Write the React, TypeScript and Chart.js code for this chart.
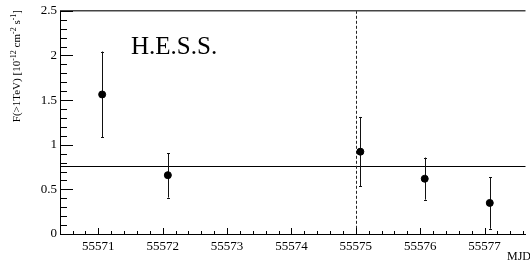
import React, { useEffect, useRef } from "react";
import { Chart, registerables } from "chart.js";

Chart.register(...registerables);

// ---- data ----
const mjd = [55571.06, 55572.08, 55575.07, 55576.07, 55577.08];
const flux = [1.563, 0.659, 0.922, 0.619, 0.348];
const fluxLow = [1.081, 0.408, 0.537, 0.385, 0.059];
const fluxHigh = [2.044, 0.903, 1.311, 0.856, 0.633];
const meanFlux = 0.765;
const markerMjd = 55575;
const xRange = [55570.405, 55577.635];
const yRange = [0, 2.5];
const yTickLabels = ["0", "0.5", "1", "1.5", "2", "2.5"];
const xTickLabels = ["55571", "55572", "55573", "55574", "55575", "55576", "55577"];
const experimentLabel = "H.E.S.S.";
const xTitle = "MJD";
const yTitleParts: [string, boolean][] = [
  ["F(>1TeV) [10", false],
  ["-12", true],
  [" cm", false],
  ["-2", true],
  [" s", false],
  ["-1", true],
  ["]", false],
];

const SERIF = "'Liberation Serif', 'Times New Roman', serif";

const rootStyle = {
  id: "rootStyle",
  beforeDatasetsDraw(chart: any) {
    const { ctx, chartArea: a, scales } = chart;
    const xs = scales.x;
    const ys = scales.y;
    ctx.save();
    const ym = Math.round(ys.getPixelForValue(meanFlux)) + 0.5;
    ctx.strokeStyle = "#000";
    ctx.lineWidth = 1;
    ctx.beginPath();
    ctx.moveTo(a.left, ym);
    ctx.lineTo(a.right, ym);
    ctx.stroke();
    const xd = Math.round(xs.getPixelForValue(markerMjd)) + 0.5;
    ctx.setLineDash([3, 2]);
    ctx.strokeStyle = "#222";
    ctx.beginPath();
    ctx.moveTo(xd, a.top);
    ctx.lineTo(xd, a.bottom);
    ctx.stroke();
    ctx.setLineDash([]);
    ctx.strokeStyle = "#111";
    for (let i = 0; i < mjd.length; i++) {
      const x = Math.round(xs.getPixelForValue(mjd[i])) + 0.5;
      const y1 = ys.getPixelForValue(fluxLow[i]);
      const y2 = ys.getPixelForValue(fluxHigh[i]);
      ctx.beginPath();
      ctx.moveTo(x, y1);
      ctx.lineTo(x, y2);
      ctx.moveTo(x - 1.5, Math.round(y1) + 0.5);
      ctx.lineTo(x + 1.5, Math.round(y1) + 0.5);
      ctx.moveTo(x - 1.5, Math.round(y2) + 0.5);
      ctx.lineTo(x + 1.5, Math.round(y2) + 0.5);
      ctx.stroke();
    }
    ctx.restore();
  },
  afterDraw(chart: any) {
    const { ctx, chartArea: a, scales } = chart;
    const xs = scales.x;
    const ys = scales.y;
    ctx.save();
    ctx.strokeStyle = "#444";
    ctx.lineWidth = 1.5;
    ctx.beginPath();
    ctx.moveTo(a.left, a.top);
    ctx.lineTo(a.right, a.top);
    ctx.stroke();
    ctx.strokeStyle = "#000";
    ctx.lineWidth = 1;
    ctx.beginPath();
    const x0 = Math.ceil(xRange[0] * 5) / 5;
    for (let v = x0; v <= xRange[1] + 1e-9; v += 0.2) {
      const vv = Math.round(v * 5) / 5;
      const major = Math.abs(vv - Math.round(vv)) < 1e-6;
      const px = Math.round(xs.getPixelForValue(vv)) + 0.5;
      ctx.moveTo(px, a.bottom);
      ctx.lineTo(px, a.bottom - (major ? 6 : 3));
    }
    for (let k = 0; k <= 25; k++) {
      const v = k / 10;
      const major = k % 5 === 0;
      const py = Math.round(ys.getPixelForValue(v)) + 0.5;
      ctx.moveTo(a.left, py);
      ctx.lineTo(a.left + (major ? 13 : 7), py);
    }
    ctx.stroke();

    ctx.fillStyle = "#000";
    ctx.font = `25px ${SERIF}`;
    ctx.textAlign = "left";
    ctx.textBaseline = "alphabetic";
    ctx.fillText(experimentLabel, 131, 54);

    ctx.font = `12px ${SERIF}`;
    ctx.textAlign = "right";
    ctx.fillText(xTitle, 531, 260);

    // y title, aligned to the top end of the axis (ROOT style)
    const fMain = `11px ${SERIF}`;
    const fSup = `8px ${SERIF}`;
    let total = 0;
    for (const [t, s] of yTitleParts) {
      ctx.font = s ? fSup : fMain;
      total += ctx.measureText(t).width;
    }
    ctx.translate(20, 0);
    ctx.rotate(-Math.PI / 2);
    ctx.textAlign = "left";
    let cx = -10 - total;
    for (const [t, s] of yTitleParts) {
      ctx.font = s ? fSup : fMain;
      ctx.fillText(t, cx, s ? -4.5 : 0);
      cx += ctx.measureText(t).width;
    }
    ctx.restore();
  },
};

export default function App() {
  const ref = useRef<HTMLCanvasElement | null>(null);
  useEffect(() => {
    let chart: any = null;
    let cancelled = false;
    const make = () => {
      if (cancelled || !ref.current) return;
      chart = new Chart(ref.current, {
        type: "scatter",
        data: {
          datasets: [
            {
              data: mjd.map((x, i) => ({ x, y: flux[i] })),
              backgroundColor: "#000",
              borderColor: "#000",
              pointRadius: 3.5,
              pointHoverRadius: 3.5,
            },
          ],
        },
        options: {
          animation: false,
          responsive: false,
          events: [],
          layout: { padding: { top: 7.2, left: 0, right: -4.5, bottom: 0 } },
          plugins: { legend: { display: false }, tooltip: { enabled: false } },
          scales: {
            x: {
              type: "linear",
              min: xRange[0],
              max: xRange[1],
              grid: { display: false, drawTicks: false },
              border: { display: true, color: "#000", width: 1 },
              afterFit: (s: any) => {
                s.height = 29;
              },
              ticks: {
                stepSize: 1,
                includeBounds: false,
                autoSkip: false,
                maxRotation: 0,
                padding: 5,
                color: "#000",
                font: { family: SERIF, size: 13 },
                callback: (v: any) => {
                  const lbl = xTickLabels.find((t) => Number(t) === Number(v));
                  return lbl ?? "";
                },
              },
            },
            y: {
              type: "linear",
              min: yRange[0],
              max: yRange[1],
              grid: { display: false, drawTicks: false },
              border: { display: true, color: "#000", width: 1 },
              afterFit: (s: any) => {
                s.width = 60;
              },
              ticks: {
                stepSize: 0.5,
                autoSkip: false,
                padding: 3,
                color: "#000",
                font: { family: SERIF, size: 13 },
                callback: (v: any) => yTickLabels[Math.round(Number(v) * 2)] ?? "",
              },
            },
          },
        },
        plugins: [rootStyle],
      });
    };
    const fonts: any = (document as any).fonts;
    if (fonts && fonts.load) {
      Promise.all([
        fonts.load(`13px 'Liberation Serif'`),
        fonts.load(`25px 'Liberation Serif'`),
      ]).then(make, make);
    } else make();
    return () => {
      cancelled = true;
      if (chart) chart.destroy();
    };
  }, []);
  return (
    <div style={{ position: "fixed", left: 0, top: 0, width: 530, height: 263, background: "#fff" }}>
      <canvas ref={ref} width={530} height={263} style={{ display: "block" }} />
    </div>
  );
}
